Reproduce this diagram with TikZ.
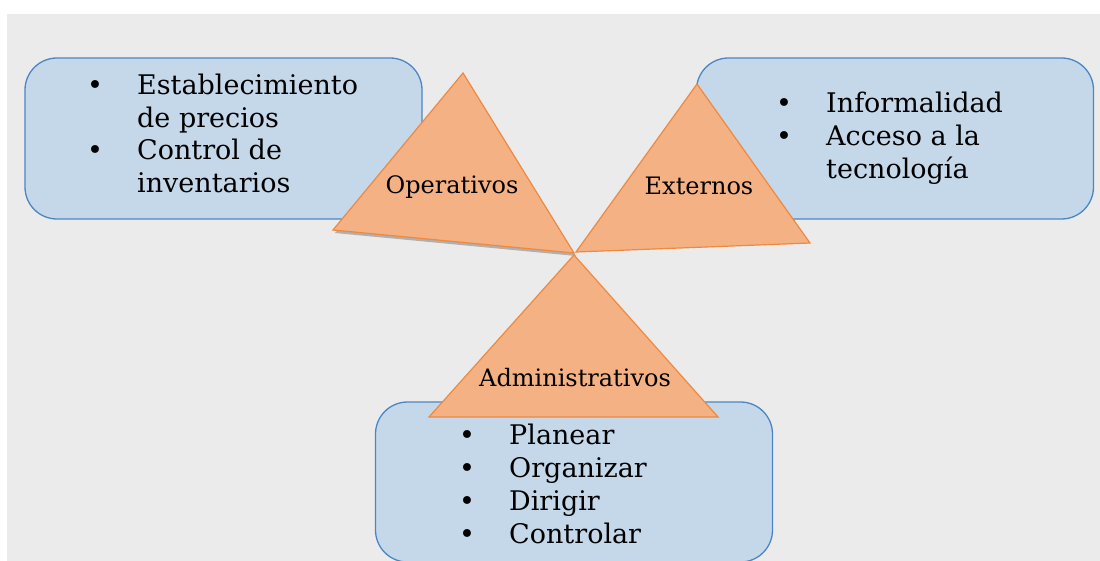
\documentclass[tikz,border=0pt]{standalone}
\usepackage{fontspec}
\setmainfont{DejaVu Serif}
\usetikzlibrary{positioning}
\definecolor{fondo}{HTML}{EBEBEB}
\definecolor{cajaazul}{HTML}{C5D8EA}
\definecolor{bordeazul}{HTML}{4A86C5}
\definecolor{naranja}{HTML}{F4B183}
\definecolor{bordenaranja}{HTML}{F0883E}
\newcommand{\vineta}{\makebox[42pt][l]{\makebox[0pt]{\textbullet}}}
\newcommand{\sangria}{\hspace*{42pt}}
\begin{document}
\begin{tikzpicture}[x=1pt,y=-1pt]

  \tikzset{caja/.style={rectangle, draw=bordeazul, fill=cajaazul, line width=1.3pt,
  		rounded corners=32pt, minimum width=397pt, minimum height=161pt}, }
  \tikzset{triangulo/.style={draw=bordenaranja, fill=naranja, line width=1.2pt}, }
  \tikzset{lista/.style={anchor=north west, inner sep=0pt, align=left,
  		font=\fontsize{27}{33}\selectfont}, }
  \tikzset{etiqueta/.style={anchor=base, inner sep=0pt, font=\fontsize{24}{28}\selectfont}, }
\useasboundingbox (0,0) rectangle (1100,561);
\clip (0,0) rectangle (1100,561);
\fill[fondo] (7,14) rectangle (1100,561);

\node[caja] (operbox) at (223.5,138.5) {};
\node[caja] (extbox) at (895,138.5) {};
\node[caja, minimum height=160pt] (admbox) at (574,482) {};

\node[lista, font=\fontsize{27}{32.5}\selectfont] (operlist) at (95,72) {\strut\vineta Establecimiento\\ \sangria de precios\\
  \vineta Control de\\ \sangria inventarios};
\node[lista] (extlist) at (784,89) {\strut\vineta Informalidad\\ \vineta Acceso a la\\
  \sangria tecnología};
\node[lista] (admlist) at (467,421.5) {\strut\vineta Planear\\ \vineta Organizar\\
  \vineta Dirigir\\ \vineta Controlar};

\coordinate (op top) at (463,73);
\coordinate (op left) at (333,230);
\coordinate (op right) at (574,253);
\coordinate (ex top) at (697,84);
\coordinate (ex left) at (576,252);
\coordinate (ex right) at (810,243);
\coordinate (ad top) at (574,255);
\coordinate (ad left) at (429,417);
\coordinate (ad right) at (718,417);

% sombra
\fill[black, opacity=.25] ([shift={(2,3)}]op top) -- ([shift={(2,3)}]op left)
  -- ([shift={(2,3)}]op right) -- cycle;
\foreach \t in {op,ex,ad}
  \draw[triangulo] (\t\space top) -- (\t\space left) -- (\t\space right) -- cycle;

\node[etiqueta] (oplabel) at (452,194) {Operativos};
\node[etiqueta] (exlabel) at (699,195) {Externos};
\node[etiqueta] (adlabel) at (575,386) {Administrativos};
%%
\end{tikzpicture}
\end{document}
